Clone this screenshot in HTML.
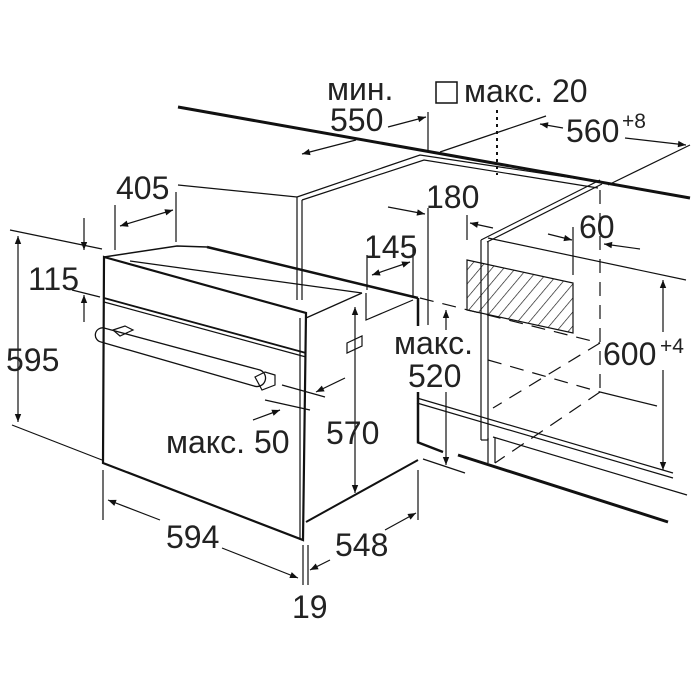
<!DOCTYPE html>
<html><head><meta charset="utf-8"><style>
html,body{margin:0;padding:0;background:#fff}
svg{display:block}
text{font-family:"Liberation Sans",sans-serif;font-size:32px;fill:#222}
</style></head><body>
<svg width="700" height="700" viewBox="0 0 700 700" xmlns="http://www.w3.org/2000/svg">
<defs>
<marker id="a" viewBox="0 0 10 10" refX="10" refY="5" markerWidth="10" markerHeight="8" orient="auto-start-reverse" markerUnits="userSpaceOnUse"><path d="M0,1 L10,5 L0,9 z" fill="#111"/></marker>
<pattern id="h" width="9" height="9" patternUnits="userSpaceOnUse" patternTransform="rotate(40)"><line x1="0" y1="0" x2="0" y2="9" stroke="#111" stroke-width="1.3"/></pattern>
</defs>
<g stroke="#111" fill="none" stroke-width="1.2">
<line x1="178" y1="107" x2="690" y2="198" stroke-width="3"/>
<polyline points="297,197 420,155 600,182"/>
<polyline points="302,200 424,160 598,188"/>
<line x1="297" y1="197" x2="297" y2="300"/>
<line x1="302" y1="200" x2="302" y2="300"/>
<line x1="178" y1="185" x2="297" y2="197"/>
<line x1="207" y1="247" x2="418" y2="298" stroke-width="2.5"/>
<line x1="417" y1="442" x2="443" y2="452" stroke-width="2.5"/>
<line x1="458" y1="455" x2="668" y2="522" stroke-width="3"/>
<line x1="417" y1="398" x2="673" y2="473"/>
<line x1="417" y1="403" x2="673" y2="478"/>
<line x1="493" y1="437" x2="687" y2="495"/>
<line x1="418" y1="298" x2="418" y2="326" stroke-width="2.5"/>
<line x1="418" y1="392" x2="418" y2="442" stroke-width="2.5"/>
<polyline points="481,240 600,180"/>
<polyline points="487,242 602,184"/>
<line x1="481" y1="240" x2="481" y2="440"/>
<line x1="488" y1="242" x2="488" y2="440"/>
<line x1="481" y1="440" x2="488" y2="440"/>
<line x1="488" y1="438" x2="488" y2="463"/>
<line x1="495" y1="438" x2="495" y2="463"/>
<line x1="488" y1="238" x2="686" y2="280"/>
<polygon points="467,260 573,283 573,333 467,310" fill="url(#h)"/>
<g stroke-dasharray="14,9">
<line x1="600" y1="190" x2="600" y2="390"/>
<line x1="420" y1="298" x2="600" y2="343"/>
<line x1="488" y1="360" x2="600" y2="392"/>
<line x1="600" y1="343" x2="493" y2="408"/>
<line x1="600" y1="392" x2="495" y2="463"/>
</g>
<line x1="600" y1="392" x2="657" y2="406"/>
<line x1="497" y1="110" x2="497" y2="175" stroke-dasharray="3,4" stroke-width="2"/>
<!-- oven -->
<polygon points="104,257 306,313 303,540 103,463" stroke-width="2.2"/>
<polyline points="104,257 177,246 207,247" stroke-width="1.5"/>
<line x1="130" y1="261" x2="362" y2="293" stroke-width="1.3"/>
<line x1="306" y1="318" x2="362" y2="293" stroke-width="1.3"/>
<line x1="104" y1="298" x2="306" y2="353" stroke-width="1.8"/>
<line x1="104" y1="302" x2="306" y2="357"/>
<line x1="306" y1="522" x2="418" y2="460" stroke-width="2"/>
<line x1="300" y1="318" x2="300" y2="540"/>
<polyline points="366,293 366,320 413,300"/>
<polygon points="347,343 362,336 362,346 347,353"/>
<path d="M101,342 L254,386 A8,8 0 0 0 260,370 L104,328 A7,7 0 0 0 101,342 z" stroke-width="1.3"/>
<polygon points="113,330 125,326 133,330 120,336"/>
<polygon points="255,377 265,372 275,375 275,385 262,390"/>
<!-- dimension lines -->
<line x1="102" y1="249" x2="10" y2="230"/>
<line x1="102" y1="460" x2="12" y2="425"/>
<line x1="18" y1="236" x2="18" y2="422" marker-start="url(#a)" marker-end="url(#a)"/>
<line x1="84" y1="218" x2="84" y2="250" marker-end="url(#a)"/>
<line x1="72" y1="290" x2="100" y2="297"/>
<line x1="84" y1="322" x2="84" y2="295" marker-end="url(#a)"/>
<line x1="115" y1="205" x2="115" y2="250"/>
<line x1="176" y1="192" x2="176" y2="242"/>
<line x1="120" y1="226" x2="173" y2="210" marker-start="url(#a)" marker-end="url(#a)"/>
<line x1="103" y1="470" x2="103" y2="520"/>
<line x1="303" y1="545" x2="303" y2="585"/>
<line x1="308" y1="545" x2="308" y2="585"/>
<line x1="108" y1="500" x2="160" y2="520" marker-start="url(#a)"/>
<line x1="222" y1="548" x2="298" y2="578" marker-end="url(#a)"/>
<line x1="418" y1="470" x2="418" y2="520"/>
<line x1="310" y1="570" x2="330" y2="560" marker-start="url(#a)"/>
<line x1="385" y1="530" x2="416" y2="513" marker-end="url(#a)"/>
<line x1="355" y1="307" x2="355" y2="493" marker-start="url(#a)" marker-end="url(#a)"/>
<line x1="282" y1="385" x2="325" y2="397"/>
<line x1="345" y1="378" x2="316" y2="392" marker-end="url(#a)"/>
<line x1="265" y1="400" x2="310" y2="410"/>
<line x1="253" y1="420" x2="280" y2="410" marker-end="url(#a)"/>
<line x1="367" y1="255" x2="367" y2="290"/>
<line x1="413" y1="247" x2="413" y2="296"/>
<line x1="372" y1="275" x2="410" y2="262" marker-start="url(#a)" marker-end="url(#a)"/>
<line x1="428" y1="208" x2="428" y2="325"/>
<line x1="388" y1="207" x2="425" y2="214" marker-end="url(#a)"/>
<line x1="467" y1="215" x2="467" y2="240"/>
<line x1="470" y1="223" x2="493" y2="228" marker-start="url(#a)"/>
<line x1="573" y1="227" x2="573" y2="275"/>
<line x1="548" y1="234" x2="572" y2="240" marker-end="url(#a)"/>
<line x1="640" y1="249" x2="604" y2="244" marker-end="url(#a)"/>
<line x1="446" y1="310" x2="446" y2="330" marker-start="url(#a)"/>
<line x1="446" y1="392" x2="446" y2="465" marker-end="url(#a)"/>
<line x1="423" y1="459" x2="465" y2="473"/>
<line x1="663" y1="280" x2="663" y2="332" marker-start="url(#a)"/>
<line x1="663" y1="370" x2="663" y2="470" marker-end="url(#a)"/>
<line x1="428" y1="112" x2="428" y2="150"/>
<line x1="302" y1="154" x2="356" y2="140" marker-start="url(#a)"/>
<line x1="388" y1="127" x2="426" y2="117" marker-end="url(#a)"/>
<line x1="440" y1="152" x2="546" y2="116"/>
<line x1="540" y1="124" x2="563" y2="128" marker-start="url(#a)"/>
<line x1="625" y1="138" x2="686" y2="145" marker-end="url(#a)"/>
<line x1="608" y1="185" x2="690" y2="145"/>
<rect x="436" y="82" width="21" height="21" stroke-width="1.5"/>
</g>
<text x="327" y="100">мин.</text>
<text x="330" y="131">550</text>
<text x="464" y="102">макс. 20</text>
<text x="566" y="142">560</text><text x="622" y="128" style="font-size:21px">+8</text>
<text x="116" y="199">405</text>
<text x="426" y="208">180</text>
<text x="579" y="238">60</text>
<text x="364" y="258">145</text>
<text x="28" y="290">115</text>
<text x="6" y="371">595</text>
<text x="394" y="354">макс.</text>
<text x="408" y="387">520</text>
<text x="603" y="365">600</text><text x="660" y="353" style="font-size:21px">+4</text>
<text x="166" y="453">макс. 50</text>
<text x="326" y="444">570</text>
<text x="166" y="548">594</text>
<text x="335" y="556">548</text>
<text x="292" y="618">19</text>
</svg>
</body></html>
